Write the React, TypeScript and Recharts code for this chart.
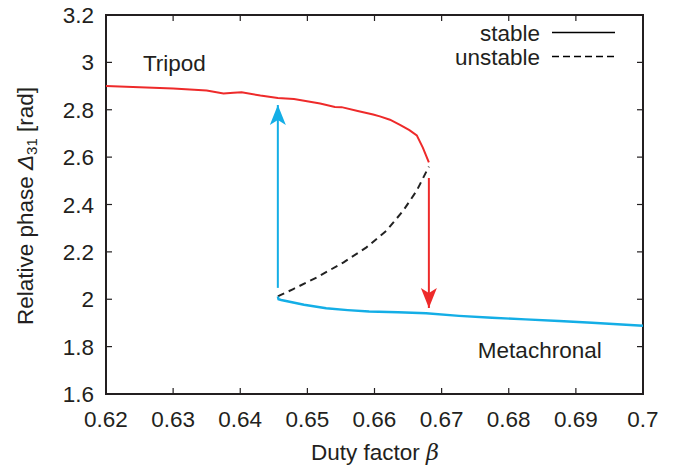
import { LineChart, Line, XAxis, YAxis, ReferenceArea, ReferenceDot } from 'recharts';

const W = 682;
const H = 470;
const TOP = 15;
const LEFT = 106;
const RIGHT = 643;
const BOTTOM = 394;

const INK = '#231f20';
const RED = '#ee2a2a';
const CYAN = '#14aee6';
const FONT = '"Liberation Sans", Arial, sans-serif';
const FS = 22.5;

const xTicks = [0.62, 0.63, 0.64, 0.65, 0.66, 0.67, 0.68, 0.69, 0.7];
const yTicks = [1.6, 1.8, 2.0, 2.2, 2.4, 2.6, 2.8, 3.0, 3.2];
const xLabels = ['0.62', '0.63', '0.64', '0.65', '0.66', '0.67', '0.68', '0.69', '0.7'];
const yLabels = ['1.6', '1.8', '2', '2.2', '2.4', '2.6', '2.8', '3', '3.2'];

// tripod branch (stable)
const tripodX = [0.62, 0.625, 0.63, 0.635, 0.6375, 0.639, 0.6402, 0.643, 0.6456, 0.648, 0.6519, 0.6541, 0.6551, 0.6575, 0.6598, 0.6608, 0.6623, 0.6638, 0.6652, 0.6663, 0.6672, 0.6681];
const tripodY = [2.9, 2.895, 2.89, 2.881, 2.869, 2.872, 2.874, 2.86, 2.85, 2.845, 2.826, 2.812, 2.811, 2.795, 2.78, 2.772, 2.758, 2.736, 2.714, 2.692, 2.64, 2.578];

// metachronal branch (stable)
const metaX = [0.6456, 0.6457, 0.6461, 0.6495, 0.6528, 0.656, 0.6592, 0.6635, 0.6677, 0.6726, 0.6775, 0.6825, 0.6875, 0.6924, 0.7];
const metaY = [2.012, 2.0, 1.997, 1.977, 1.962, 1.954, 1.948, 1.945, 1.941, 1.93, 1.922, 1.915, 1.908, 1.901, 1.888];

// unstable branch
const unstX = [0.6456, 0.6459, 0.6479, 0.6514, 0.6554, 0.6588, 0.6618, 0.6643, 0.6663, 0.6681];
const unstY = [2.012, 2.016, 2.043, 2.092, 2.156, 2.219, 2.29, 2.375, 2.459, 2.56];

// transition arrows: [x, yStart, yTip]
const downArrow = [0.6681, 2.512, 1.963];
const upArrow = [0.6456, 2.048, 2.82];

const legendItems = ['stable', 'unstable'];

const pts = (xs: number[], ys: number[]) => xs.map((x, i) => ({ x, y: ys[i] }));

const tripod = pts(tripodX, tripodY);
const meta = pts(metaX, metaY);
const unstable = pts(unstX, unstY);
const redArrow = [{ x: downArrow[0], y: downArrow[1] }, { x: downArrow[0], y: downArrow[2] }];
const blueArrow = [{ x: upArrow[0], y: upArrow[1] }, { x: upArrow[0], y: upArrow[2] }];

function XTick({ x, y, index }: any) {
  return (
    <g>
      <line x1={x} x2={x} y1={BOTTOM} y2={BOTTOM - 6} stroke={INK} strokeWidth={1.2} />
      <line x1={x} x2={x} y1={TOP} y2={TOP + 6} stroke={INK} strokeWidth={1.2} />
      <text x={x} y={y + 33} textAnchor="middle" fontSize={FS} fill={INK} fontFamily={FONT}>
        {xLabels[index]}
      </text>
    </g>
  );
}

function YTick({ x, y, index }: any) {
  return (
    <g>
      <line x1={LEFT} x2={LEFT + 6} y1={y} y2={y} stroke={INK} strokeWidth={1.2} />
      <line x1={RIGHT} x2={RIGHT - 6} y1={y} y2={y} stroke={INK} strokeWidth={1.2} />
      <text x={x - 12} y={y} dy="0.36em" textAnchor="end" fontSize={FS} fill={INK} fontFamily={FONT}>
        {yLabels[index]}
      </text>
    </g>
  );
}

function headDown(color: string) {
  return (p: any) => {
    if (p.index !== 1) return <g key={`h${p.index}`} />;
    const { cx, cy } = p;
    return (
      <polygon
        key="head"
        points={`${cx},${cy} ${cx - 8},${cy - 20} ${cx},${cy - 15} ${cx + 8},${cy - 20}`}
        fill={color}
      />
    );
  };
}

function headUp(color: string) {
  return (p: any) => {
    if (p.index !== 1) return <g key={`h${p.index}`} />;
    const { cx, cy } = p;
    return (
      <polygon
        key="head"
        points={`${cx},${cy} ${cx - 8},${cy + 20} ${cx},${cy + 15} ${cx + 8},${cy + 20}`}
        fill={color}
      />
    );
  };
}

function Legend() {
  return (
    <svg width={W} height={80} style={{ position: 'absolute', left: 0, top: 0, pointerEvents: 'none' }}>
      {legendItems.map((label, i) => {
        const cy = 32.5 + i * 24;
        return (
          <g key={label}>
            <text x={540} y={cy + 8.5} textAnchor="end" fontSize={FS} fill={INK} fontFamily={FONT}>
              {label}
            </text>
            <line
              x1={552}
              x2={615}
              y1={cy}
              y2={cy}
              stroke="#000"
              strokeWidth={1.6}
              strokeDasharray={i === 1 ? '7 4' : undefined}
            />
          </g>
        );
      })}
    </svg>
  );
}

export default function App() {
  return (
    <div style={{ position: 'absolute', left: 0, top: 0, width: W, height: H, background: '#fff' }}>
      <LineChart width={W} height={H} margin={{ top: TOP, right: W - RIGHT, bottom: 0, left: 0 }}>
        <XAxis
          dataKey="x"
          type="number"
          domain={[0.62, 0.7]}
          ticks={xTicks}
          allowDataOverflow
          axisLine={false}
          tickLine={false}
          tickSize={0}
          tickMargin={0}
          height={H - BOTTOM}
          tick={<XTick />}
          interval={0}
          label={{
            content: () => (
              <text x={375} y={460} textAnchor="middle" fontSize={FS} fill={INK} fontFamily={FONT}>
                Duty factor <tspan fontStyle="italic" fontFamily="'DejaVu Serif', serif">β</tspan>
              </text>
            ),
          }}
        />
        <YAxis
          type="number"
          domain={[1.6, 3.2]}
          ticks={yTicks}
          allowDataOverflow
          axisLine={false}
          tickLine={false}
          tickSize={0}
          tickMargin={0}
          width={LEFT}
          tick={<YTick />}
          interval={0}
          label={{
            content: () => (
              <text
                x={33}
                y={206}
                transform="rotate(-90, 33, 206)"
                textAnchor="middle"
                fontSize={FS}
                fill={INK}
                fontFamily={FONT}
              >
                Relative phase <tspan fontStyle="italic">Δ</tspan>
                <tspan fontSize={15} dy={4}>31</tspan>
                <tspan dy={-4}> [rad]</tspan>
              </text>
            ),
          }}
        />
        <ReferenceArea x1={0.62} x2={0.7} y1={1.6} y2={3.2} fill="none" stroke={INK} strokeWidth={2} ifOverflow="visible" />

        <Line data={unstable} dataKey="y" stroke="#222" strokeWidth={2} strokeDasharray="7 5" dot={false} activeDot={false} isAnimationActive={false} />
        <Line data={tripod} dataKey="y" stroke={RED} strokeWidth={2} dot={false} activeDot={false} isAnimationActive={false} />
        <Line data={meta} dataKey="y" stroke={CYAN} strokeWidth={2.4} dot={false} activeDot={false} isAnimationActive={false} />
        <Line data={redArrow} dataKey="y" stroke={RED} strokeWidth={2} dot={headDown(RED)} activeDot={false} isAnimationActive={false} />
        <Line data={blueArrow} dataKey="y" stroke={CYAN} strokeWidth={2} dot={headUp(CYAN)} activeDot={false} isAnimationActive={false} />

        <ReferenceDot
          x={0.6255}
          y={2.965}
          r={0}
          stroke="none"
          ifOverflow="visible"
          label={{
            content: ({ viewBox }: any) => (
              <text x={viewBox.x} y={viewBox.y} fontSize={FS} fill={INK} fontFamily={FONT}>
                Tripod
              </text>
            ),
          }}
        />
        <ReferenceDot
          x={0.6754}
          y={1.752}
          r={0}
          stroke="none"
          ifOverflow="visible"
          label={{
            content: ({ viewBox }: any) => (
              <text x={viewBox.x} y={viewBox.y} fontSize={FS} fill={INK} fontFamily={FONT}>
                Metachronal
              </text>
            ),
          }}
        />
      </LineChart>
      <Legend />
    </div>
  );
}
